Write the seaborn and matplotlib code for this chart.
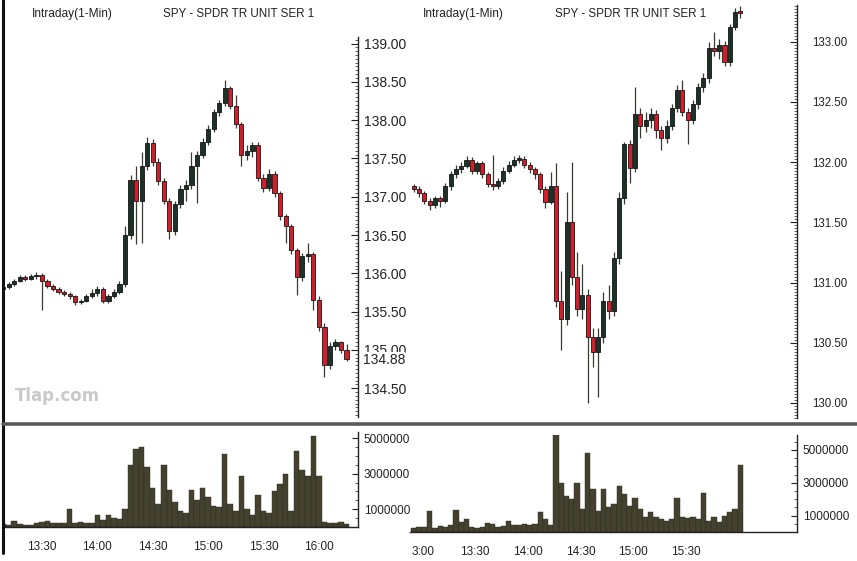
import matplotlib
matplotlib.use("Agg")
import matplotlib.pyplot as plt
import matplotlib.transforms as mtransforms
import numpy as np
import pandas as pd
import seaborn as sns
from matplotlib.lines import Line2D
from matplotlib.ticker import (FixedFormatter, FixedLocator, FormatStrFormatter,
                               MultipleLocator, NullFormatter)

# ---- left session: 3-minute bars, time in minutes after midnight ----
left_times = list(range(789, 978, 3))
left_first_open = 135.80
left_close = [135.82, 135.86, 135.90, 135.95, 135.93, 135.96, 135.98, 135.90, 135.84, 135.80,
              135.76, 135.73, 135.70, 135.62, 135.64, 135.70, 135.74, 135.80, 135.64, 135.70,
              135.76, 135.86, 136.50, 137.22, 136.95, 137.40, 137.70, 137.45, 137.20, 136.95,
              136.55, 136.90, 137.10, 137.15, 137.40, 137.55, 137.72, 137.88, 138.10, 138.22,
              138.42, 138.18, 137.95, 137.55, 137.60, 137.68, 137.25, 137.12, 137.30, 137.05,
              136.75, 136.62, 136.30, 135.95, 136.22, 136.25, 135.65, 135.30, 134.80, 135.05,
              135.10, 135.00, 134.88]
left_high = [135.85, 135.89, 135.93, 135.98, 135.98, 135.99, 136.02, 136.00, 135.93, 135.86,
             135.82, 135.78, 135.75, 135.72, 135.67, 135.73, 135.80, 135.83, 135.82, 135.73,
             135.79, 135.90, 136.62, 137.28, 137.40, 137.58, 137.78, 137.75, 137.50, 137.24,
             136.98, 136.95, 137.15, 137.22, 137.58, 137.60, 137.76, 137.93, 138.14, 138.26,
             138.52, 138.45, 138.33, 137.98, 137.68, 137.72, 137.72, 137.30, 137.36, 137.34,
             137.08, 136.78, 136.65, 136.33, 136.26, 136.40, 136.28, 135.70, 135.35, 135.10,
             135.14, 135.12, 135.08]
left_low = [135.78, 135.80, 135.84, 135.88, 135.90, 135.91, 135.93, 135.52, 135.81, 135.77,
            135.73, 135.70, 135.67, 135.59, 135.60, 135.62, 135.68, 135.71, 135.61, 135.61,
            135.68, 135.73, 135.82, 136.45, 136.38, 136.40, 137.35, 137.40, 137.15, 136.90,
            136.45, 136.50, 136.85, 136.95, 137.10, 136.92, 137.50, 137.68, 137.85, 138.06,
            138.18, 138.14, 137.90, 137.40, 137.48, 137.52, 137.20, 137.06, 137.08, 137.00,
            136.70, 136.40, 136.25, 135.72, 135.90, 136.15, 135.52, 135.25, 134.65, 134.75,
            135.00, 134.96, 134.85]
left_volume_m = [0.15, 0.12, 0.35, 0.15, 0.12, 0.10, 0.20, 0.30, 0.35, 0.20,
                 0.20, 0.25, 1.00, 0.25, 0.30, 0.20, 0.25, 0.70, 0.40, 0.70,
                 0.50, 0.45, 1.00, 3.50, 4.40, 4.50, 3.40, 2.20, 1.30, 3.50,
                 2.10, 1.40, 0.90, 0.80, 2.10, 1.50, 2.20, 1.70, 1.20, 1.10,
                 4.10, 1.30, 0.90, 2.90, 1.00, 0.70, 1.80, 0.90, 0.80, 2.00,
                 2.40, 3.00, 0.90, 4.30, 3.20, 2.90, 5.10, 2.90, 0.30, 0.20,
                 0.25, 0.30, 0.15]
left_time_labels = ["13:30", "14:00", "14:30", "15:00", "15:30", "16:00"]
left_time_ticks = [810, 840, 870, 900, 930, 960]
left_last_label = "134.88"

# ---- right session ----
right_times = list(range(775, 964, 3))
right_first_open = 131.80
right_close = [131.78, 131.74, 131.68, 131.64, 131.70, 131.68, 131.80, 131.90, 131.94, 131.97,
               132.02, 131.93, 131.99, 131.90, 131.82, 131.80, 131.84, 131.93, 131.98, 132.02,
               132.03, 131.98, 131.94, 131.90, 131.78, 131.67, 131.80, 130.85, 130.70, 131.50,
               131.05, 130.78, 130.90, 130.55, 130.42, 130.55, 130.85, 130.76, 131.20, 131.70,
               132.15, 131.95, 132.40, 132.30, 132.35, 132.40, 132.27, 132.20, 132.30, 132.45,
               132.60, 132.42, 132.35, 132.48, 132.62, 132.70, 132.95, 132.92, 132.97, 132.83,
               133.12, 133.25, 133.24]
right_high = [131.82, 131.80, 131.76, 131.70, 131.72, 131.72, 131.83, 131.93, 131.98, 132.00,
              132.05, 132.04, 132.01, 132.01, 131.92, 132.06, 131.87, 131.96, 132.01, 132.05,
              132.06, 132.05, 132.00, 131.96, 131.92, 131.80, 131.92, 131.99, 131.10, 131.75,
              132.00, 131.25, 131.15, 130.95, 130.62, 130.62, 130.92, 130.98, 131.25, 131.75,
              132.17, 132.18, 132.62, 132.45, 132.42, 132.45, 132.43, 132.30, 132.35, 132.48,
              132.64, 132.68, 132.45, 132.52, 132.66, 132.74, 133.00, 133.08, 133.02, 133.01,
              133.15, 133.28, 133.30]
right_low = [131.75, 131.71, 131.65, 131.60, 131.62, 131.63, 131.66, 131.77, 131.87, 131.91,
             131.95, 131.90, 131.90, 131.87, 131.79, 131.77, 131.78, 131.82, 131.91, 131.96,
             131.99, 131.95, 131.91, 131.86, 131.74, 131.62, 131.65, 130.80, 130.44, 130.65,
             130.98, 130.72, 130.70, 130.00, 130.30, 130.05, 130.50, 130.70, 130.72, 131.15,
             131.65, 131.83, 131.92, 132.20, 132.25, 132.28, 132.20, 132.10, 132.16, 132.27,
             132.42, 132.38, 132.15, 132.32, 132.44, 132.58, 132.66, 132.88, 132.86, 132.80,
             132.80, 133.10, 133.20]
right_volume_m = [0.25, 0.30, 0.30, 1.30, 0.25, 0.35, 0.30, 0.45, 1.35, 0.60,
                  0.80, 0.30, 0.25, 0.30, 0.55, 0.50, 0.30, 0.35, 0.70, 0.40,
                  0.45, 0.50, 0.40, 0.50, 1.20, 0.80, 0.40, 5.90, 3.00, 2.20,
                  2.00, 3.00, 1.40, 4.80, 2.60, 1.30, 2.60, 1.50, 1.70, 2.80,
                  2.30, 1.60, 2.10, 1.40, 0.90, 1.20, 0.90, 0.80, 0.70, 0.80,
                  2.10, 0.90, 0.85, 0.90, 0.80, 2.40, 0.70, 0.90, 0.60, 1.00,
                  1.20, 1.40, 4.10]
right_time_labels = ["3:00", "13:30", "14:00", "14:30", "15:00", "15:30"]
right_time_ticks = [780, 810, 840, 870, 900, 930]

panel_title = "Intraday(1-Min)"
symbol_title = "SPY - SPDR TR UNIT SER 1"
volume_ticks = [1000000, 3000000, 5000000]

UP = "#1d3226"
DOWN = "#d21e2b"
EDGE = "#141414"
WICK = "#3a3a33"
VOL = "#45412f"

sns.set_style("white")
plt.rcParams["font.family"] = ["Liberation Sans", "DejaVu Sans"]

W, H = 857, 561
fig = plt.figure(figsize=(W / 100, H / 100), dpi=100)
fig.patch.set_facecolor("white")


def box(x0, y0, x1, y1):
    # pixel box (top-left origin) -> figure fraction rect
    return [x0 / W, 1 - y1 / H, (x1 - x0) / W, (y1 - y0) / H]


def draw_candles(ax, times, first_open, close, high, low, width):
    t = np.asarray(times, dtype=float)
    c = np.asarray(close)
    o = np.r_[first_open, c[:-1]]
    ax.vlines(t, low, high, color=WICK, lw=0.9, zorder=2)
    up = c >= o
    ax.bar(t[up], np.maximum((c - o)[up], 0.015), bottom=o[up], width=width,
           color=UP, edgecolor=EDGE, lw=0.6, zorder=3)
    ax.bar(t[~up], np.maximum((o - c)[~up], 0.015), bottom=c[~up], width=width,
           color=DOWN, edgecolor=EDGE, lw=0.6, zorder=3)


def style_price(ax, xlim, ylim, minor, size, pad):
    ax.set_xlim(xlim)
    ax.set_ylim(ylim)
    for s in ["left", "top", "bottom"]:
        ax.spines[s].set_visible(False)
    ax.spines["right"].set_color("#222222")
    ax.spines["right"].set_linewidth(1.0)
    ax.yaxis.tick_right()
    ax.yaxis.set_major_locator(MultipleLocator(0.5))
    ax.yaxis.set_minor_locator(MultipleLocator(minor))
    ax.yaxis.set_major_formatter(FormatStrFormatter("%.2f"))
    ax.tick_params(axis="y", which="major", direction="in", length=5, width=0.8,
                   pad=pad, labelsize=size, colors="#222222")
    ax.tick_params(axis="y", which="minor", direction="in", length=2, width=0.6,
                   colors="#444444")
    ax.set_xticks([])
    ax.patch.set_alpha(0)


def draw_volume(ax, times, vols_m, xlim, ymax, ticks, labels, minor_step):
    df = pd.DataFrame({"time": np.asarray(times, dtype=float),
                       "volume": np.asarray(vols_m) * 1e6})
    edges = [t - 1.5 for t in times] + [times[-1] + 1.5]
    sns.histplot(data=df, x="time", weights="volume", bins=edges, ax=ax,
                 color=VOL, alpha=1, edgecolor="#2b291f", linewidth=0.3)
    ax.set_xlim(xlim)
    ax.set_ylim(0, ymax)
    ax.set_xlabel("")
    ax.set_ylabel("")
    for s in ["left", "top"]:
        ax.spines[s].set_visible(False)
    for s in ["right", "bottom"]:
        ax.spines[s].set_color("#222222")
        ax.spines[s].set_linewidth(1.0)
    ax.yaxis.tick_right()
    ax.yaxis.set_major_locator(FixedLocator(volume_ticks))
    ax.yaxis.set_major_formatter(FormatStrFormatter("%d"))
    ax.yaxis.set_minor_locator(MultipleLocator(500000))
    ax.tick_params(axis="y", which="major", direction="in", length=4, pad=4,
                   labelsize=8.5, colors="#222222")
    ax.tick_params(axis="y", which="minor", direction="in", length=2, colors="#444444")
    ax.xaxis.set_major_locator(FixedLocator(ticks))
    ax.xaxis.set_major_formatter(FixedFormatter(labels))
    ax.xaxis.set_minor_locator(MultipleLocator(minor_step))
    ax.xaxis.set_minor_formatter(NullFormatter())
    ax.tick_params(axis="x", which="major", direction="out", length=6, width=1.0,
                   pad=4, labelsize=8.5, colors="#222222")
    ax.tick_params(axis="x", which="minor", direction="out", length=4, width=0.8,
                   colors="#333333")
    ax.patch.set_alpha(0)


# left panel
axp1 = fig.add_axes(box(3, 37, 358, 417))
draw_candles(axp1, left_times, left_first_open, left_close, left_high, left_low, 2.3)
style_price(axp1, (788.9, 981.2), (134.124, 139.085), 0.05, 10, 4)
tr = mtransforms.blended_transform_factory(axp1.transAxes, axp1.transData)
axp1.text(1.013, left_close[-1] - 0.01, left_last_label, transform=tr, ha="left",
          va="center", fontsize=10, color="#222222",
          bbox=dict(facecolor="white", edgecolor="none", pad=0.3))

axv1 = fig.add_axes(box(3, 432, 358, 527))
draw_volume(axv1, left_times, left_volume_m, (788.9, 981.2), 5.35e6,
            left_time_ticks, left_time_labels, 15)

# right panel
axp2 = fig.add_axes(box(410, 5, 797, 418))
draw_candles(axp2, right_times, right_first_open, right_close, right_high, right_low, 2.3)
style_price(axp2, (772.8, 993.3), (129.875, 133.305), 0.025, 8.3, 11)

axv2 = fig.add_axes(box(410, 435, 797, 532))
draw_volume(axv2, right_times, right_volume_m, (772.8, 993.3), 5.91e6,
            right_time_ticks, right_time_labels, 5)

# titles
for x0, x1 in [(32, 163), (423, 555)]:
    fig.text(x0 / W, 1 - 14 / H, panel_title, fontsize=8.6, color="#222222", va="center")
    fig.text(x1 / W, 1 - 14 / H, symbol_title, fontsize=8.4, color="#222222", va="center")

# frame lines
fig.add_artist(Line2D([3 / W, 3 / W], [1 - 0 / H, 1 - 553 / H], color="#111111", lw=2.2))
fig.add_artist(Line2D([3 / W, 1.0], [1 - 424 / H, 1 - 424 / H], color="#5a5a5e", lw=2.6))

fig.text(15 / W, 1 - 396 / H, "Tlap.com", fontsize=12, fontweight="bold",
         family="DejaVu Sans", color="#c9c9c9", va="center")

fig.savefig("out.png", dpi=100, facecolor="white")
